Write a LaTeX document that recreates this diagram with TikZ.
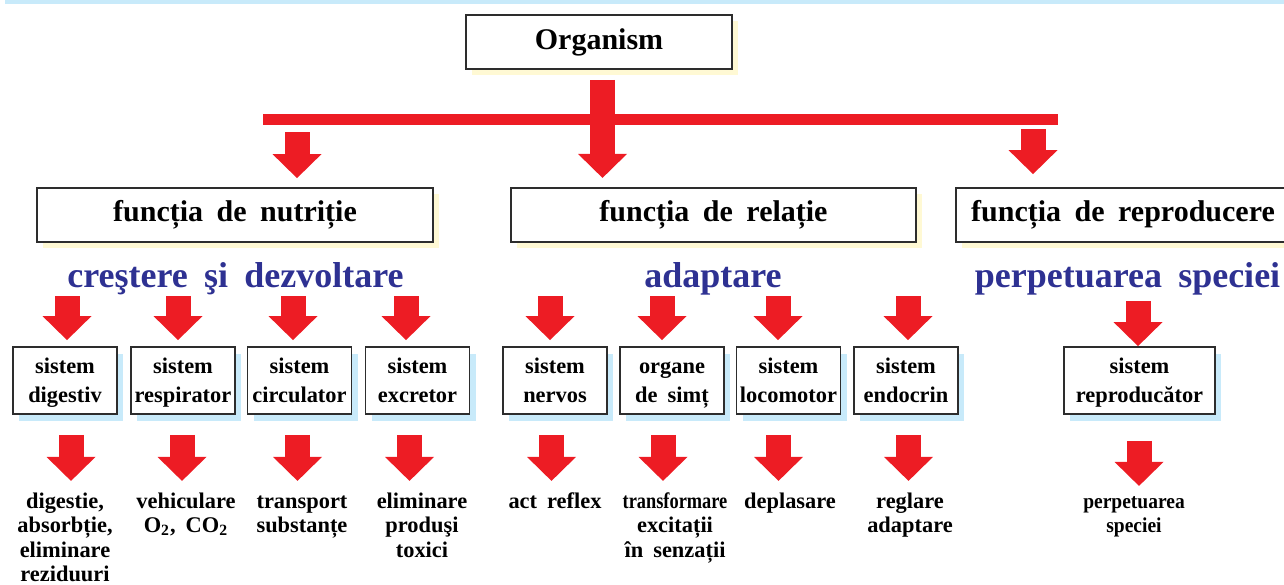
\documentclass[tikz,border=0pt]{standalone}
\usepackage{fontspec}
\setmainfont{Liberation Serif}[WordSpace=1.8]
\usepackage{graphicx}
\usetikzlibrary{arrows.meta,positioning,shadows}
\definecolor{arrowred}{RGB}{237,28,36}
\definecolor{titleblue}{RGB}{46,49,146}
\definecolor{paleyellow}{RGB}{255,249,212}
\definecolor{paleblue}{RGB}{200,234,250}
\definecolor{boxline}{RGB}{45,45,45}
\newcommand{\bs}{\rule[-3pt]{0pt}{13.3pt}}
\newcommand{\rs}{\rule{0pt}{9pt}}
\tikzset{
  bigarrow/.style={draw=arrowred,line width=12.5pt,-{Triangle[width=24.5pt,length=12pt,line width=0pt]}},
  mainbox/.style={draw=boxline,line width=0.9pt,fill=white,inner sep=0pt,minimum height=27pt,
    font=\bfseries\fontsize{15}{18}\selectfont,
    general shadow={fill=paleyellow,shadow xshift=3pt,shadow yshift=-3pt}},
  sysbox/.style={draw=boxline,line width=0.9pt,fill=white,align=center,inner sep=0pt,
    minimum width=52pt,minimum height=33.5pt,font=\bfseries\fontsize{11.2}{13}\selectfont,
    general shadow={fill=paleblue,shadow xshift=3pt,shadow yshift=-3.5pt}},
  goal/.style={text=titleblue,anchor=base,inner sep=0pt,font=\bfseries\fontsize{18}{21}\selectfont},
  result/.style={align=center,inner sep=0pt,font=\bfseries\fontsize{11.2}{12.2}\selectfont}
}
\begin{document}
\begin{tikzpicture}[x=0.5pt,y=-0.5pt]
\useasboundingbox (0,0) rectangle (1284,584);
\clip (0,0) rectangle (1284,584);
\fill[paleblue] (5,0) rectangle (1284,3.5);

\node[mainbox,minimum width=133pt] (organism) at (599,42) {Organism};
\node[mainbox,minimum width=198pt] (nutritie) at (235,215) {funcția de nutriție};
\node[mainbox,minimum width=202.5pt] (relatie) at (713.5,215) {funcția de relație};
\node[mainbox,minimum width=167pt] (reproducere) at (1123,215) {funcția de reproducere};

\coordinate (barL) at (263,119.5);
\coordinate (barR) at (1058,119.5);
\draw[arrowred,line width=5.5pt] (barL)--(barR);
\draw[bigarrow] ([xshift=1.75pt,yshift=-5pt]organism.south)--([xshift=1.75pt,yshift=-54pt]organism.south);
\draw[bigarrow] ([xshift=31pt,yshift=27.5pt]nutritie.north)--([xshift=31pt,yshift=4.5pt]nutritie.north);
\draw[bigarrow] ([xshift=-45pt,yshift=29pt]reproducere.north)--([xshift=-45pt,yshift=6.5pt]reproducere.north);

\node[goal] (crestere) at (235.5,287) {creştere şi dezvoltare};
\node[goal] (adaptare) at (713,287) {adaptare};
\node[goal] (perpetuare) at (1127.5,287) {perpetuarea speciei};

\node[sysbox] (digestiv) at (65,380.5) {\bs sistem\\digestiv\bs};
\node[sysbox] (respirator) at (183,380.5) {\bs sistem\\respirator\bs};
\node[sysbox] (circulator) at (299.5,380.5) {\bs sistem\\circulator\bs};
\node[sysbox] (excretor) at (417.5,380.5) {\bs sistem\\excretor\bs};
\node[sysbox] (nervos) at (555,380.5) {\bs sistem\\nervos\bs};
\node[sysbox] (simt) at (672,380.5) {\bs organe\\de simț\bs};
\node[sysbox] (locomotor) at (788.5,380.5) {\bs sistem\\locomotor\bs};
\node[sysbox] (endocrin) at (906,380.5) {\bs sistem\\endocrin\bs};
\node[sysbox,minimum width=75.5pt] (reproducator) at (1139.5,380.5) {\bs sistem\\reproducător\bs};

\draw[bigarrow] ([xshift=1pt,yshift=25pt]digestiv.north)--([xshift=1pt,yshift=3pt]digestiv.north);
\draw[bigarrow] ([xshift=-2.5pt,yshift=25pt]respirator.north)--([xshift=-2.5pt,yshift=3pt]respirator.north);
\draw[bigarrow] ([xshift=-3.25pt,yshift=25pt]circulator.north)--([xshift=-3.25pt,yshift=3pt]circulator.north);
\draw[bigarrow] ([xshift=-5.75pt,yshift=25pt]excretor.north)--([xshift=-5.75pt,yshift=3pt]excretor.north);
\draw[bigarrow] ([xshift=-2.5pt,yshift=25pt]nervos.north)--([xshift=-2.5pt,yshift=3pt]nervos.north);
\draw[bigarrow] ([xshift=-5pt,yshift=25pt]simt.north)--([xshift=-5pt,yshift=3pt]simt.north);
\draw[bigarrow] ([xshift=-5.25pt,yshift=25pt]locomotor.north)--([xshift=-5.25pt,yshift=3pt]locomotor.north);
\draw[bigarrow] ([xshift=1pt,yshift=25pt]endocrin.north)--([xshift=1pt,yshift=3pt]endocrin.north);
\draw[bigarrow] ([xshift=-0.75pt,yshift=22.5pt]reproducator.north)--([xshift=-0.75pt,yshift=0pt]reproducator.north);

\draw[bigarrow] ([xshift=3pt,yshift=-10pt]digestiv.south)--([xshift=3pt,yshift=-33pt]digestiv.south);
\draw[bigarrow] ([xshift=-0.5pt,yshift=-10pt]respirator.south)--([xshift=-0.5pt,yshift=-33pt]respirator.south);
\draw[bigarrow] ([xshift=-1pt,yshift=-10pt]circulator.south)--([xshift=-1pt,yshift=-33pt]circulator.south);
\draw[bigarrow] ([xshift=-4pt,yshift=-10pt]excretor.south)--([xshift=-4pt,yshift=-33pt]excretor.south);
\draw[bigarrow] ([xshift=-1.75pt,yshift=-10pt]nervos.south)--([xshift=-1.75pt,yshift=-33pt]nervos.south);
\draw[bigarrow] ([xshift=-4.5pt,yshift=-10pt]simt.south)--([xshift=-4.5pt,yshift=-33pt]simt.south);
\draw[bigarrow] ([xshift=-5pt,yshift=-10pt]locomotor.south)--([xshift=-5pt,yshift=-33pt]locomotor.south);
\draw[bigarrow] ([xshift=1.25pt,yshift=-10pt]endocrin.south)--([xshift=1.25pt,yshift=-33pt]endocrin.south);
\draw[bigarrow] ([xshift=-0.25pt,yshift=-13pt]reproducator.south)--([xshift=-0.25pt,yshift=-35.5pt]reproducator.south);

\node[result,below=37.5pt of digestiv] (digestie) {\rs digestie,\\absorbție,\\eliminare\\reziduuri};
\node[result,below=37.5pt of respirator,xshift=1.5pt] (vehiculare) {\rs vehiculare\\O\textsubscript{2}, CO\textsubscript{2}};
\node[result,below=37.5pt of circulator,xshift=1.25pt] (transport) {\rs transport\\substanțe};
\node[result,below=37.5pt of excretor,xshift=2.25pt] (eliminare) {\rs eliminare\\produşi\\toxici};
\node[result,below=37.5pt of nervos] (reflex) {\rs act reflex};
\node[result,below=37.5pt of simt,xshift=1.5pt] (senzatii) {\rs\scalebox{0.82}[1]{transformare}\\excitații\\în senzații};
\node[result,below=37.5pt of locomotor,xshift=0.75pt] (deplasare) {\rs deplasare};
\node[result,below=37.5pt of endocrin,xshift=2pt] (reglare) {\rs reglare\\adaptare};
\node[result,below=37.5pt of reproducator,xshift=-2.75pt,font=\bfseries\fontsize{10.6}{12}\selectfont] (specie) {\rs\scalebox{0.92}[1]{perpetuarea}\\\scalebox{0.92}[1]{speciei}};
\end{tikzpicture}
\end{document}
